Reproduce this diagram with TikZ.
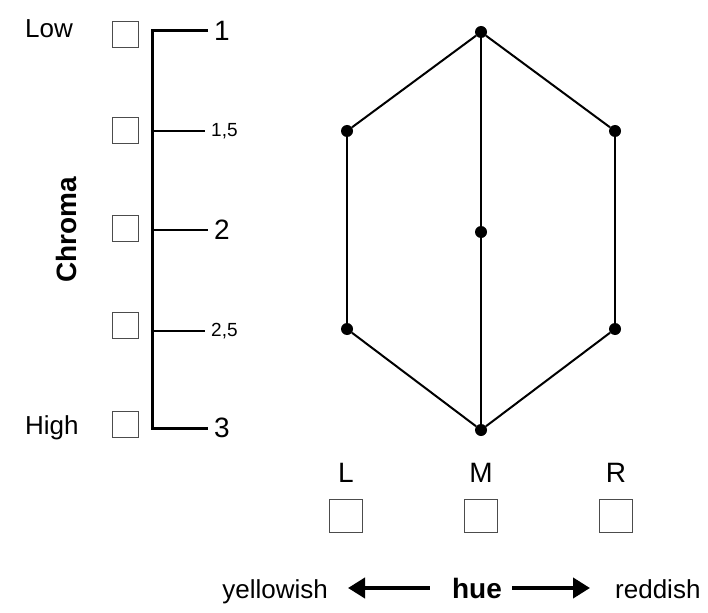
\documentclass[tikz,border=0pt]{standalone}
\usepackage{fontspec}
\setmainfont{Liberation Sans}
\usetikzlibrary{arrows.meta,positioning}

\begin{document}
\begin{tikzpicture}[x=1pt, y=-1pt,
  box/.style={draw=black!70,line width=1pt,minimum size=26pt,inner sep=0pt},
  big box/.style={box,minimum size=33pt},
  dot/.style={circle,fill=black,minimum size=12pt,inner sep=0pt},
  lbl/.style={font=\fontsize{26}{30}\selectfont,inner sep=0pt},
  num/.style={font=\fontsize{28}{30}\selectfont,inner sep=0pt},
  small num/.style={font=\fontsize{19}{22}\selectfont,inner sep=0pt},
  bold lbl/.style={font=\fontsize{28}{32}\selectfont\bfseries,inner sep=0pt},
  hue arrow/.style={line width=4pt,-{Triangle[length=17pt,width=20pt]}}]
\useasboundingbox (0,0) rectangle (708,612);
% chroma scale
\begin{scope}
\coordinate (s1) at (152,31);%1
\coordinate (s2) at (152,131);%1,5
\coordinate (s3) at (152,230);%2
\coordinate (s4) at (152,331);%2,5
\coordinate (s5) at (152,428);%3
\coordinate (t1) at (208,31);
\coordinate (t2) at (205,131);
\coordinate (t3) at (208,230);
\coordinate (t4) at (205,331);
\coordinate (t5) at (208,428);
\node[num, right=6pt of t1] (n1) {1};
\node[small num, right=6pt of t2] (n2) {1,5};
\node[num, right=6pt of t3] (n3) {2};
\node[small num, right=6pt of t4] (n4) {2,5};
\node[num, right=6pt of t5] (n5) {3};
\node[box] (c1) at (125.5,35) {};
\node[box] (c2) at (125.5,130.5) {};
\node[box] (c3) at (125.5,228) {};
\node[box] (c4) at (125.5,325.5) {};
\node[box] (c5) at (125.5,424) {};
\node[lbl, anchor=base west] (low) at (25,38) {Low};
\node[lbl, anchor=base west] (high) at (25,434) {High};
\node[bold lbl, rotate=90] (chroma) at (66,230) {Chroma};
\end{scope}
\draw[line width=3pt] (t1) -- (s1) -- (s5) -- (t5);
\draw[line width=2.4pt] (s2) -- (t2);
\draw[line width=2.4pt] (s3) -- (t3);
\draw[line width=2.4pt] (s4) -- (t4);
% hexagon
\begin{scope}
\node[dot] (top) at (481,32) {};
\node[dot] (ul) at (347,131) {};
\node[dot] (ur) at (615,131) {};
\node[dot] (mid) at (481,232) {};
\node[dot] (ll) at (347,329) {};
\node[dot] (lr) at (615,329) {};
\node[dot] (bot) at (481,430) {};
\end{scope}
\begin{scope}[every edge/.style={draw=black,line width=2pt}]
\draw (top) edge (ul);
\draw (ul) edge (ll);
\draw (ll) edge (bot);
\draw (bot) edge (lr);
\draw (lr) edge (ur);
\draw (ur) edge (top);
\draw (top) edge (mid);
\draw (mid) edge (bot);
\end{scope}
% hue boxes
\node[num] (hl) at (346,473) {L};
\node[num] (hm) at (481,473) {M};
\node[num] (hr) at (616,473) {R};
\node[big box, below=16pt of hl] (bl) {};
\node[big box, below=16pt of hm] (bm) {};
\node[big box, below=16pt of hr] (br) {};
% hue axis
\node[bold lbl, anchor=base] (hue) at (477,598) {hue};
\node[lbl, anchor=base east] (yellow) at (328,598) {yellowish};
\node[lbl, anchor=base west] (red) at (615,598) {reddish};
\draw[hue arrow, shorten <=22pt, shorten >=20pt] (hue.west) -- (yellow.east |- hue.west);
\draw[hue arrow, shorten <=10pt, shorten >=25pt] (hue.east) -- (red.west |- hue.east);
\end{tikzpicture}
\end{document}
